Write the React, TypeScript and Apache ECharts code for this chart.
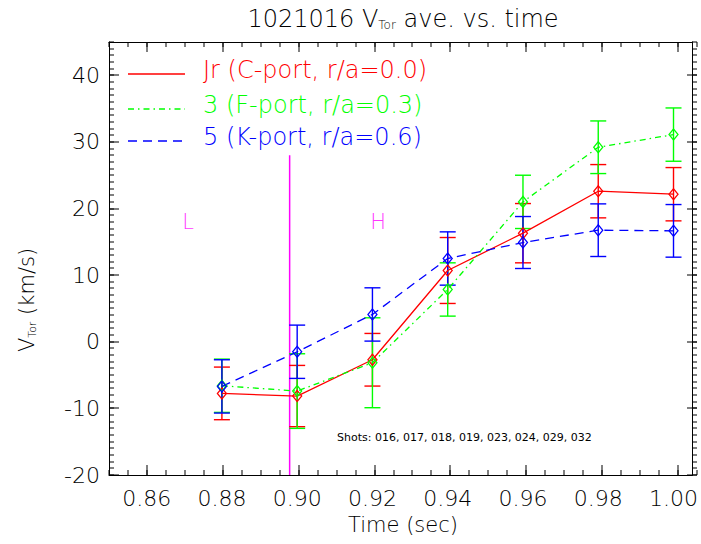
import { useEffect, useRef } from 'react';
import * as echarts from 'echarts';

// ---- data ----
const times = [0.88, 0.9, 0.92, 0.94, 0.96, 0.98, 1.0];
const seriesNames = ['Jr (C-port, r/a=0.0)', '3 (F-port, r/a=0.3)', '5 (K-port, r/a=0.6)'];
const seriesColors = ['#ff0000', '#00ff00', '#0000ff'];
const jrValues = [-7.75, -8.15, -2.7, 10.7, 16.3, 22.6, 22.15];
const jrErrors = [3.95, 4.6, 3.95, 4.95, 4.45, 4.0, 4.0];
const f3Values = [-6.6, -7.4, -3.15, 7.85, 21.0, 29.2, 31.1];
const f3Errors = [4.0, 5.6, 6.75, 4.0, 4.0, 3.95, 4.0];
const k5Values = [-6.7, -1.5, 4.1, 12.5, 14.9, 16.75, 16.65];
const k5Errors = [4.0, 4.0, 4.0, 4.0, 3.9, 3.95, 3.95];
const xTickValues = [0.86, 0.88, 0.9, 0.92, 0.94, 0.96, 0.98, 1.0];
const yTickValues = [-20, -10, 0, 10, 20, 30, 40];
const xMinorStep = 0.005;
const yMinorStep = 1;
const xRange = [0.85, 1.005];
const yRange = [-20, 45];
const boundaryLine = [[0.898, -20], [0.898, 28]];
const regionNames = ['L', 'H'];
const regionPositions = [[0.871, 18], [0.9215, 18]];
const shotsText = 'Shots: 016, 017, 018, 019, 023, 024, 029, 032';

const FONT = '"DejaVu Sans", sans-serif';
const FW = 200;
const GRID = { left: 109, top: 42, width: 588, height: 433 };

export default function App() {
  const ref = useRef<HTMLDivElement>(null);
  useEffect(() => {
    const chart = echarts.init(ref.current!, undefined, { renderer: 'svg' });
    const valuesList = [jrValues, f3Values, k5Values];
    const errorsList = [jrErrors, f3Errors, k5Errors];
    const dashTypes: any[] = ['solid', [6, 4, 1.5, 4], [9, 6]];

    const frameAxis = (extra: any) => ({
      type: 'value',
      axisLine: { show: true, onZero: false, lineStyle: { color: '#000', width: 1 } },
      axisTick: { show: false },
      splitLine: { show: false },
      axisLabel: { show: false },
      ...extra,
    });

    const xAxis = [
      frameAxis({
        position: 'bottom', min: xRange[0], max: xRange[1],
        axisLabel: { show: true, customValues: xTickValues, formatter: (v: number) => v.toFixed(2), color: '#000', fontSize: 22, fontFamily: FONT, fontWeight: FW, margin: 12 },
      }),
      frameAxis({ position: 'top', min: xRange[0], max: xRange[1] }),
    ];
    const yAxis = [
      frameAxis({
        position: 'left', min: yRange[0], max: yRange[1],
        axisLabel: { show: true, customValues: yTickValues, color: '#000', fontSize: 22, fontFamily: FONT, fontWeight: FW, margin: 9 },
      }),
      frameAxis({ position: 'right', min: yRange[0], max: yRange[1] }),
    ];

    const series: any[] = [];
    valuesList.forEach((vals, si) => {
      const color = seriesColors[si];
      series.push({
        type: 'custom',
        name: seriesNames[si] + ' err',
        xAxisIndex: 0, yAxisIndex: 0,
        encode: { x: 0, y: [1, 2] },
        data: times.map((t, i) => [t, vals[i] - errorsList[si][i], vals[i] + errorsList[si][i]]),
        renderItem: (params: any, api: any) => {
          const x = api.value(0);
          const lo = api.coord([x, api.value(1)]);
          const hi = api.coord([x, api.value(2)]);
          const hw = 8;
          const st = { stroke: color, lineWidth: 1.4 };
          return {
            type: 'group',
            children: [
              { type: 'line', shape: { x1: lo[0], y1: lo[1], x2: hi[0], y2: hi[1] }, style: st },
              { type: 'line', shape: { x1: lo[0] - hw, y1: lo[1], x2: lo[0] + hw, y2: lo[1] }, style: st },
              { type: 'line', shape: { x1: hi[0] - hw, y1: hi[1], x2: hi[0] + hw, y2: hi[1] }, style: st },
            ],
          };
        },
        z: 2,
      });
    });
    valuesList.forEach((vals, si) => {
      const color = seriesColors[si];
      series.push({
        type: 'line',
        name: seriesNames[si],
        xAxisIndex: 0, yAxisIndex: 0,
        data: times.map((t, i) => [t, vals[i]]),
        symbol: 'diamond',
        symbolSize: [9, 11],
        showAllSymbol: true,
        lineStyle: { color, width: 1.3, type: dashTypes[si] },
        itemStyle: { color: 'rgba(255,255,255,0)', borderColor: color, borderWidth: 1.3 },
        z: 3,
      });
    });
    series.push({
      type: 'line', name: 'boundary', xAxisIndex: 0, yAxisIndex: 0,
      data: boundaryLine, symbol: 'none',
      lineStyle: { color: '#ff00ff', width: 1.5 }, z: 1,
    });
    series.push({
      type: 'scatter', name: 'regions', xAxisIndex: 0, yAxisIndex: 0,
      data: regionNames.map((n, i) => ({ name: n, value: regionPositions[i] })),
      symbolSize: 1, itemStyle: { color: 'rgba(0,0,0,0)' },
      label: { show: true, position: 'inside', formatter: '{b}', color: '#ff00ff', fontSize: 21, fontFamily: FONT, fontWeight: FW },
    });

    // axis scale mapping (same linear scale as the chart's value axes on this grid)
    const linX = (v: number) => GRID.left + ((v - xRange[0]) / (xRange[1] - xRange[0])) * GRID.width;
    const linY = (v: number) => GRID.top + GRID.height - ((v - yRange[0]) / (yRange[1] - yRange[0])) * GRID.height;

    const legendRows = [74, 109, 141];
    const g: any[] = [];
    seriesNames.forEach((n, i) => {
      g.push({
        type: 'line', shape: { x1: 128, y1: legendRows[i], x2: 185, y2: legendRows[i] },
        style: { stroke: seriesColors[i], lineWidth: 1.3, lineDash: dashTypes[i] === 'solid' ? null : dashTypes[i] },
      });
      g.push({
        type: 'text', x: 203, y: legendRows[i] - 4,
        style: { text: n, fill: seriesColors[i], fontSize: 24, fontFamily: FONT, fontWeight: FW, verticalAlign: 'middle', align: 'left' },
      });
    });
    g.push({
      type: 'text', x: 403, y: 19,
      style: {
        text: '1021016 V{sub|Tor} ave. vs. time', fill: '#000', fontSize: 24, fontFamily: FONT, fontWeight: FW,
        align: 'center', verticalAlign: 'middle',
        rich: { sub: { fontSize: 12, fontFamily: FONT, fontWeight: FW, fill: '#000', verticalAlign: 'bottom', padding: [8, 0, 0, 0] } },
      },
    });
    g.push({
      type: 'text', x: 403, y: 525,
      style: { text: 'Time (sec)', fill: '#000', fontSize: 21, fontFamily: FONT, fontWeight: FW, align: 'center', verticalAlign: 'middle' },
    });
    g.push({
      type: 'text', x: 27, y: 300, rotation: Math.PI / 2,
      style: {
        text: 'V{sub|Tor} (km/s)', fill: '#000', fontSize: 21, fontFamily: FONT, fontWeight: FW,
        align: 'center', verticalAlign: 'middle',
        rich: { sub: { fontSize: 11, fontFamily: FONT, fontWeight: FW, fill: '#000', verticalAlign: 'bottom', padding: [8, 0, 0, 0] } },
      },
    });
    g.push({
      type: 'text', x: 337, y: 437,
      style: { text: shotsText, fill: '#000', fontSize: 11, fontFamily: FONT, align: 'left', verticalAlign: 'middle' },
    });

    // tick marks on four sides drawn as thin filled rects
    const left = GRID.left, right = GRID.left + GRID.width, top = GRID.top, bottom = GRID.top + GRID.height;
    const addX = (v: number, len: number) => {
      const px = Math.round(linX(v));
      g.push({ type: 'rect', z: 100, shape: { x: px - 0.5, y: bottom - len, width: 1, height: len }, style: { fill: '#000' } });
      g.push({ type: 'rect', z: 100, shape: { x: px - 0.5, y: top, width: 1, height: len }, style: { fill: '#000' } });
    };
    const addY = (v: number, len: number) => {
      const py = Math.round(linY(v));
      g.push({ type: 'rect', z: 100, shape: { x: left, y: py - 0.5, width: len, height: 1 }, style: { fill: '#000' } });
      g.push({ type: 'rect', z: 100, shape: { x: right - len, y: py - 0.5, width: len, height: 1 }, style: { fill: '#000' } });
    };
    for (let k = Math.ceil(xRange[0] / xMinorStep - 1e-6); k * xMinorStep <= xRange[1] + 1e-9; k++) addX(k * xMinorStep, 5);
    xTickValues.forEach((v) => addX(v, 10));
    for (let k = Math.ceil(yRange[0] / yMinorStep); k * yMinorStep <= yRange[1]; k++) addY(k * yMinorStep, 5);
    yTickValues.forEach((v) => addY(v, 10));

    chart.setOption({
      animation: false,
      backgroundColor: '#fff',
      grid: { ...GRID, show: false },
      xAxis,
      yAxis,
      series,
      graphic: { elements: g },
    });
    return () => chart.dispose();
  }, []);
  return <div ref={ref} style={{ position: 'fixed', left: 0, top: 0, width: 701, height: 544, background: '#fff' }} />;
}
